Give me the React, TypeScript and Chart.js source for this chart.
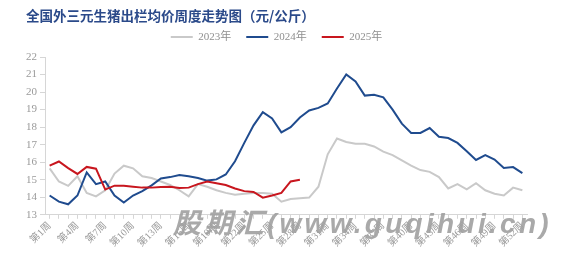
import React, { useEffect, useRef } from "react";
import { Chart, registerables } from "chart.js";

Chart.register(...registerables);

const weeks = [
  "第1周", "第2周", "第3周", "第4周", "第5周", "第6周", "第7周", "第8周", "第9周", "第10周",
  "第11周", "第12周", "第13周", "第14周", "第15周", "第16周", "第17周", "第18周", "第19周", "第20周",
  "第21周", "第22周", "第23周", "第24周", "第25周", "第26周", "第27周", "第28周", "第29周", "第30周",
  "第31周", "第32周", "第33周", "第34周", "第35周", "第36周", "第37周", "第38周", "第39周", "第40周",
  "第41周", "第42周", "第43周", "第44周", "第45周", "第46周", "第47周", "第48周", "第49周", "第50周",
  "第51周", "第52周",
];

const price2023 = [
  15.65, 14.9, 14.65, 15.2, 14.25, 14.05, 14.4, 15.35, 15.8, 15.65,
  15.2, 15.1, 14.9, 14.7, 14.4, 14.05, 14.75, 14.6, 14.4, 14.25,
  14.15, 14.2, 14.25, 14.25, 14.2, 13.75, 13.9, 13.95, 13.98, 14.6,
  16.45, 17.35, 17.15, 17.05, 17.05, 16.9, 16.6, 16.4, 16.1, 15.8,
  15.55, 15.45, 15.15, 14.5, 14.75, 14.45, 14.8, 14.4, 14.2, 14.1,
  14.55, 14.4,
];

const price2024 = [
  14.1, 13.75, 13.6, 14.1, 15.42, 14.75, 14.9, 14.1, 13.7, 14.1,
  14.35, 14.68, 15.07, 15.15, 15.27, 15.2, 15.1, 14.95, 15.02, 15.3,
  16.05, 17.1, 18.1, 18.85, 18.5, 17.7, 18.0, 18.55, 18.95, 19.1,
  19.35, 20.2, 21.0, 20.6, 19.8, 19.85, 19.7, 19.0, 18.2, 17.67,
  17.67, 17.95, 17.45, 17.38, 17.1, 16.63, 16.13, 16.4, 16.15, 15.67,
  15.72, 15.38,
];

const price2025 = [
  15.8, 16.04, 15.66, 15.33, 15.73, 15.63, 14.44, 14.66, 14.65, 14.6,
  14.55, 14.55, 14.58, 14.6, 14.53, 14.55, 14.75, 14.9, 14.8, 14.7,
  14.5, 14.35, 14.3, 13.98, 14.1, 14.25, 14.9, 15.0,
];

const seriesNames = ["2023年", "2024年", "2025年"];
const yTicks = { min: 13, max: 22, step: 1 };

const tickFont = "'Liberation Serif', 'Noto Sans CJK SC', serif";

export default function App() {
  const ref = useRef<HTMLCanvasElement | null>(null);

  useEffect(() => {
    if (!ref.current) return;
    const chart = new Chart(ref.current, {
      type: "line",
      data: {
        labels: weeks,
        datasets: [
          {
            label: seriesNames[0],
            data: price2023,
            borderColor: "#c9c9c9",
            backgroundColor: "#c9c9c9",
            borderWidth: 2,
            pointRadius: 0,
            tension: 0,
            order: 3,
          },
          {
            label: seriesNames[1],
            data: price2024,
            borderColor: "#1f4b8e",
            backgroundColor: "#1f4b8e",
            borderWidth: 2,
            pointRadius: 0,
            tension: 0,
            order: 2,
          },
          {
            label: seriesNames[2],
            data: price2025,
            borderColor: "#c8161e",
            backgroundColor: "#c8161e",
            borderWidth: 2,
            pointRadius: 0,
            tension: 0,
            order: 1,
          },
        ],
      },
      options: {
        animation: false,
        responsive: false,
        maintainAspectRatio: false,
        layout: { padding: { left: 26, right: 45, top: 0, bottom: 6.5 } },
        plugins: {
          title: {
            display: true,
            text: "全国外三元生猪出栏均价周度走势图（元/公斤）",
            align: "start",
            color: "#2b4a8a",
            font: { family: "'Noto Sans CJK SC', sans-serif", size: 13.5, weight: "bold", lineHeight: 1.2 },
            padding: { top: 7.9, bottom: -7.6 },
          },
          subtitle: {
            display: true,
            text: "",
            position: "top",
            weight: 500,
            font: { size: 1, lineHeight: 1 },
            padding: { top: 3.5, bottom: 0 },
          },
          legend: {
            display: true,
            position: "top",
            labels: {
              usePointStyle: true,
              pointStyle: "line",
              pointStyleWidth: 22,
              padding: 15,
              color: "#8f8f8f",
              font: { family: tickFont, size: 11 },
              sort: (a: any, b: any) => a.datasetIndex - b.datasetIndex,
            },
          },
          tooltip: { enabled: false },
        },
        scales: {
          x: {
            type: "category",
            offset: true,
            grid: { display: true, drawOnChartArea: false, tickLength: 4, color: "#d6d6d6" },
            border: { display: true, color: "#d6d6d6" },
            ticks: {
              autoSkip: false,
              minRotation: 45,
              maxRotation: 45,
              padding: 1,
              color: "#9a9a9a",
              font: { family: tickFont, size: 10 },
              callback: (_v: any, i: number) => (i % 3 === 0 ? weeks[i] : ""),
            },
          },
          y: {
            min: yTicks.min,
            max: yTicks.max,
            afterFit: (scale: any) => {
              scale.width = 19;
            },
            grid: { display: true, drawOnChartArea: false, tickLength: 5, color: "#d6d6d6" },
            border: { display: true, color: "#d6d6d6" },
            ticks: {
              stepSize: yTicks.step,
              color: "#9a9a9a",
              font: { family: tickFont, size: 11 },
            },
          },
        },
      },
    });
    return () => chart.destroy();
  }, []);

  return (
    <div style={{ position: "fixed", left: 0, top: 0, width: 572, height: 257, background: "#fff" }}>
      <canvas ref={ref} width={572} height={257} style={{ display: "block", width: 572, height: 257 }} />
      <div
        style={{
          position: "absolute",
          left: 173,
          top: 210,
          fontFamily: "'Liberation Sans', 'Noto Sans CJK SC', sans-serif",
          fontSize: 28,
          lineHeight: "28px",
          fontWeight: "bold",
          fontStyle: "italic",
          letterSpacing: 3.3,
          color: "rgba(160,160,160,0.9)",
          whiteSpace: "nowrap",
          pointerEvents: "none",
        }}
      >
        股期汇(www.guqihui.cn)
      </div>
    </div>
  );
}
